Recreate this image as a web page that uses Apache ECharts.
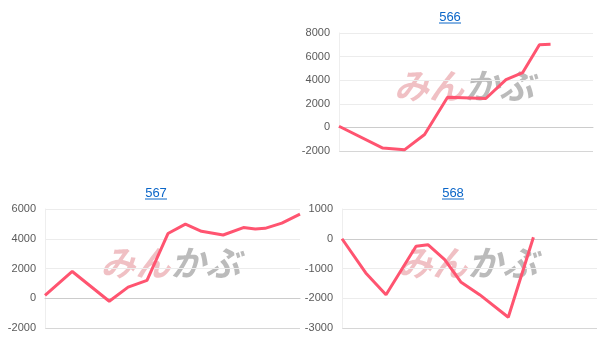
<!DOCTYPE html>
<html>
<head>
<meta charset="utf-8">
<script src="https://cdn.jsdelivr.net/npm/echarts@6/dist/echarts.min.js"></script>
<style>
html,body{margin:0;padding:0;background:#fff;}
#c{width:605px;height:353px;}
</style>
</head>
<body>
<div id="c"></div>
<script>
// ---- data ----
const titles = ['566', '567', '568'];
// x = day offset from each series' first date (axis spans 0..365 days)
const days566 = [0, 63, 94, 123, 156, 211, 240, 264, 288, 304];
const vals566 = [100, -1750, -1900, -600, 2550, 2450, 4050, 4650, 7000, 7050];
const days567 = [0, 39, 92, 119, 146, 176, 201, 224, 255, 284, 301, 315, 339, 365];
const vals567 = [200, 1800, -200, 750, 1200, 4350, 4980, 4500, 4250, 4750, 4650, 4700, 5050, 5650];
const days568 = [0, 34, 63, 106, 123, 147, 170, 197, 238, 274];
const vals568 = [0, -1150, -1880, -250, -200, -700, -1450, -1880, -2640, 50];
const yRange566 = [-2000, 8000, 2000];
const yRange567 = [-2000, 6000, 2000];
const yRange568 = [-3000, 1000, 1000];

// ---- layout ----
const grids = [
  {left: 339, top: 33, width: 254, height: 118},
  {left: 45, top: 209, width: 255, height: 119},
  {left: 342, top: 209, width: 255, height: 119}
];
const titlePos = [[450, 17], [156, 193], [453, 193]];
const ranges = [yRange566, yRange567, yRange568];
const xs = [days566, days567, days568];
const ys = [vals566, vals567, vals568];

const lineColor = '#ff5470';
const font = '"Liberation Sans", Arial, sans-serif';

const xAxis = grids.map((g, i) => ({
  type: 'value', gridIndex: i, min: 0, max: 365,
  axisLabel: {show: false}, axisTick: {show: false}, splitLine: {show: false},
  axisLine: {show: true, onZero: true, lineStyle: {color: '#cccccc', width: 1}}
}));
const yAxis = ranges.map((r, i) => {
  const n = Math.round((r[1] - r[0]) / r[2]) + 1;
  const colors = [];
  for (let k = 0; k < n; k++) colors.push(k === 0 ? '#d6d6d6' : '#ececec');
  return {
    type: 'value', gridIndex: i, min: r[0], max: r[1], interval: r[2],
    axisLabel: {color: '#5a5a5a', fontSize: 11, fontFamily: font, margin: 9,
      formatter: (v) => String(v)},
    axisTick: {show: false},
    axisLine: {show: true, lineStyle: {color: '#eeeeee'}},
    splitLine: {show: true, lineStyle: {color: colors, width: 1}}
  };
});
const series = ys.map((v, i) => ({
  type: 'line', xAxisIndex: i, yAxisIndex: i,
  data: v.map((y, k) => [xs[i][k], y]),
  showSymbol: false, symbol: 'none',
  lineStyle: {color: lineColor, width: 3},
  itemStyle: {color: lineColor},
  z: 3
}));

const graphic = [];
grids.forEach((g, i) => {
  // watermark
  graphic.push({
    type: 'text', z: 0,
    x: g.left + g.width / 2 - 2, y: g.top + g.height / 2 - 6,
    style: {
      text: '{a|みん}{b|かぶ}', align: 'center', verticalAlign: 'middle',
      rich: {
        a: {fontSize: 35, fontWeight: 'bold', fontStyle: 'italic', fill: 'rgba(215,90,100,0.38)', fontFamily: '"Noto Sans CJK JP"'},
        b: {fontSize: 35, fontWeight: 'bold', fontStyle: 'italic', fill: 'rgba(120,120,120,0.5)', fontFamily: '"Noto Sans CJK JP"'}
      }
    }
  });
  // title
  const p = titlePos[i];
  graphic.push({
    type: 'text', x: p[0], y: p[1],
    style: {text: titles[i], align: 'center', verticalAlign: 'middle', fill: '#0b66c8', font: '13px ' + font}
  });
  graphic.push({
    type: 'line', shape: {x1: p[0] - 11, y1: p[1] + 6, x2: p[0] + 11, y2: p[1] + 6},
    style: {stroke: '#0b66c8', lineWidth: 1}
  });
});

const chart = echarts.init(document.getElementById('c'), null, {renderer: 'canvas'});
chart.setOption({
  animation: false,
  backgroundColor: '#ffffff',
  grid: grids,
  xAxis: xAxis,
  yAxis: yAxis,
  series: series,
  graphic: graphic
});
</script>
</body>
</html>
